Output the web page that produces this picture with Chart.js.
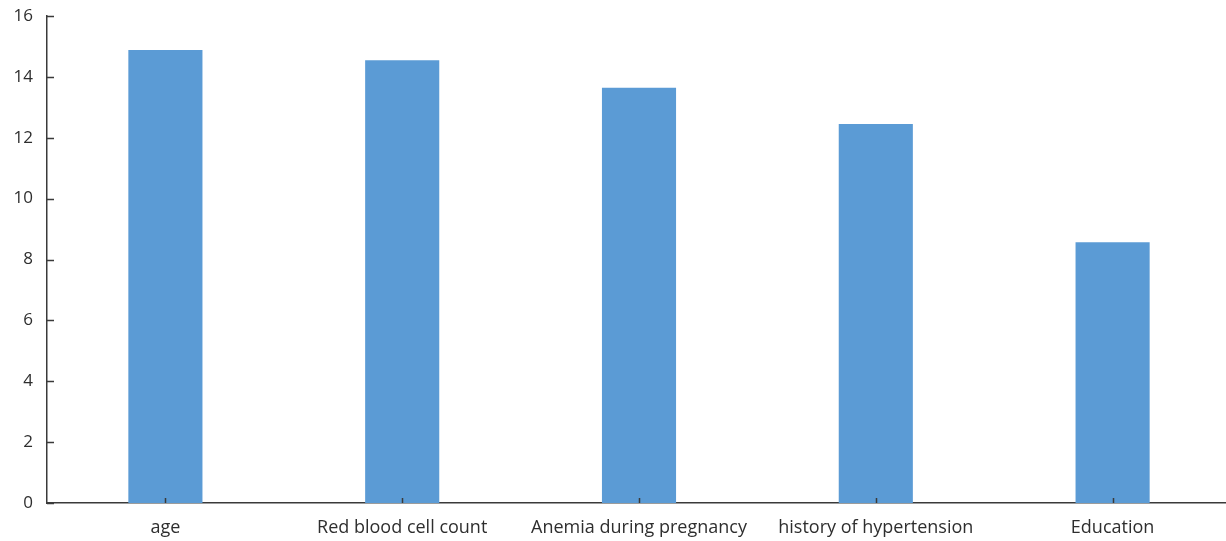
<!DOCTYPE html>
<html>
<head>
<meta charset="utf-8">
<script src="https://cdn.jsdelivr.net/npm/chart.js@4/dist/chart.umd.min.js"></script>
<style>
  html, body { margin: 0; padding: 0; background: #ffffff; overflow: hidden; }
  #wrap { position: relative; width: 1231px; height: 541px; }
</style>
</head>
<body>
<div id="wrap"><canvas id="chart"></canvas></div>
<script>
// Factors and their scores
const categories = ["age", "Red blood cell count", "Anemia during pregnancy", "history of hypertension", "Education"];
const values = [14.88, 14.55, 13.64, 12.45, 8.57];
const yTicks = [0, 2, 4, 6, 8, 10, 12, 14, 16];

const axisColor = "#3a3a3a";
const textColor = "#2e2e2e";
const barColor = "#5B9BD5";
const family = "'Open Sans', 'Noto Sans', sans-serif";

// Short tick marks pointing into the plot area, as in office-style charts
const inwardTicks = {
  id: "inwardTicks",
  afterDraw(chart) {
    const { ctx, scales: { x, y } } = chart;
    ctx.save();
    ctx.strokeStyle = axisColor;
    ctx.lineWidth = 1.5;
    ctx.beginPath();
    yTicks.forEach(v => {
      const py = Math.round(y.getPixelForValue(v)) + 0.5;
      ctx.moveTo(x.left, py);
      ctx.lineTo(x.left + 7, py);
    });
    categories.forEach((c, i) => {
      const px = Math.round(x.getPixelForValue(i)) + 0.5;
      ctx.moveTo(px, y.bottom);
      ctx.lineTo(px, y.bottom - 5);
    });
    ctx.stroke();
    ctx.restore();
  }
};

new Chart(document.getElementById("chart"), {
  type: "bar",
  data: {
    labels: categories,
    datasets: [{
      data: values,
      backgroundColor: barColor,
      borderWidth: 0,
      barPercentage: 0.313,
      categoryPercentage: 1.0
    }]
  },
  options: {
    responsive: true,
    maintainAspectRatio: false,
    animation: false,
    devicePixelRatio: 1,
    layout: { padding: { top: 16, right: 0, bottom: 0, left: 0 } },
    plugins: { legend: { display: false }, tooltip: { enabled: false } },
    scales: {
      x: {
        grid: { display: false, drawTicks: false },
        border: { display: true, color: axisColor, width: 1.5 },
        ticks: { color: textColor, font: { family: family, size: 18 }, padding: 14, maxRotation: 0, autoSkip: false },
        afterFit(scale) { scale.height = 38; }
      },
      y: {
        min: 0,
        max: 16,
        grid: { display: false, drawTicks: false },
        border: { display: true, color: axisColor, width: 1.5 },
        afterBuildTicks(scale) { scale.ticks = yTicks.map(v => ({ value: v })); },
        ticks: { color: textColor, font: { family: family, size: 17 }, padding: 14 },
        afterFit(scale) { scale.width = 47; scale.paddingTop = 0; scale.paddingBottom = 0; }
      }
    }
  },
  plugins: [inwardTicks]
});
</script>
</body>
</html>
